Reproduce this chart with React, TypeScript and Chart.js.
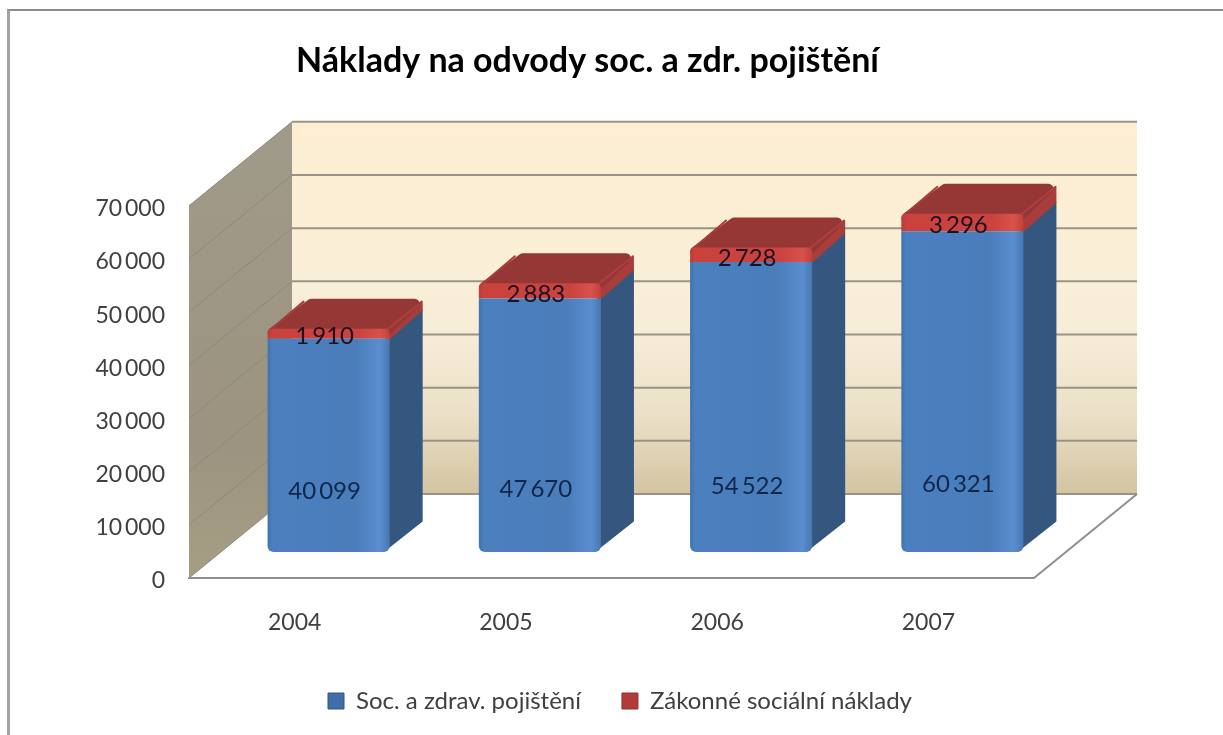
import React, { useEffect, useRef } from "react";
import { Chart, registerables } from "chart.js";

Chart.register(...registerables);

const years = ["2004", "2005", "2006", "2007"];
const socialInsurance = [40099, 47670, 54522, 60321];
const statutoryCosts = [1910, 2883, 2728, 3296];
const seriesNames = ["Soc. a zdrav. pojištění", "Zákonné sociální náklady"];
const chartTitle = "Náklady na odvody soc. a zdr. pojištění";

const FONT = "Lato";
const WALL = { dx: 103, dy: -84 };
const BAR_SHIFT = { dx: 34, dy: -26 };
const BAR_DEPTH = { dx: 33, dy: -31 };

const fmt = (v: number) => {
  const s = String(Math.round(v));
  return s.length > 3 ? s.slice(0, -3) + "\u2009" + s.slice(-3) : s;
};

// Colour stops are resolved inside the translated dataset context, so the gradient uses untranslated x.
function frontGradient(ctx: any, stops: [number, string][]) {
  const c = ctx.chart;
  const x = c.scales.x;
  if (!x || ctx.dataIndex === undefined) return stops[1][1];
  const cx = x.getPixelForValue(ctx.dataIndex);
  const g = c.ctx.createLinearGradient(cx - 61, 0, cx + 61, 0);
  stops.forEach(([p, col]) => g.addColorStop(p, col));
  return g;
}

const blueStops: [number, string][] = [
  [0, "#3f74ae"], [0.04, "#4b7fbe"], [0.72, "#4a7dba"], [0.92, "#5a8ecf"], [1, "#4877b2"],
];
const redStops: [number, string][] = [
  [0, "#bb3d39"], [0.04, "#c9423e"], [0.75, "#cb433f"], [0.92, "#d9514b"], [1, "#c1403c"],
];

const scenePlugin = {
  id: "scene3d",
  afterLayout(chart: any) {
    if (chart.titleBlock) { chart.titleBlock.left = 0; chart.titleBlock.right = 1175; }
    if (chart.legend) { chart.legend.left = 0; chart.legend.right = 1240; chart.legend.top -= 12; chart.legend.bottom -= 12; }
  },
  beforeDatasetsDraw(chart: any) {
    const { ctx, chartArea: a, scales } = chart;
    const y = scales.y;
    const { left, right } = a;
    const y0 = y.getPixelForValue(0);
    const yT = y.getPixelForValue(70000);
    const bl = left + WALL.dx, br = right + WALL.dx;
    ctx.save();
    // back wall
    const back = ctx.createLinearGradient(0, yT + WALL.dy, 0, y0 + WALL.dy);
    back.addColorStop(0, "#feefd3");
    back.addColorStop(0.55, "#f8eed8");
    back.addColorStop(0.8, "#eadfc6");
    back.addColorStop(1, "#d3c4a1");
    ctx.fillStyle = back;
    ctx.fillRect(bl, yT + WALL.dy, br - bl, y0 - yT);
    // left wall
    const side = ctx.createLinearGradient(0, yT + WALL.dy, 0, y0);
    side.addColorStop(0, "#a09a8a");
    side.addColorStop(0.7, "#9c9480");
    side.addColorStop(1, "#a69d84");
    ctx.fillStyle = side;
    ctx.beginPath();
    ctx.moveTo(left, yT); ctx.lineTo(bl, yT + WALL.dy); ctx.lineTo(bl, y0 + WALL.dy); ctx.lineTo(left, y0);
    ctx.closePath(); ctx.fill();
    // grid
    y.ticks.forEach((t: any) => {
      const py = y.getPixelForValue(t.value);
      ctx.lineWidth = 2;
      ctx.strokeStyle = "#9b9485";
      ctx.beginPath(); ctx.moveTo(bl, py + WALL.dy); ctx.lineTo(br, py + WALL.dy); ctx.stroke();
      ctx.lineWidth = 1;
      ctx.strokeStyle = "#8f8979";
      ctx.beginPath(); ctx.moveTo(left, py); ctx.lineTo(bl, py + WALL.dy); ctx.stroke();
    });
    // floor outline
    ctx.lineWidth = 2;
    ctx.strokeStyle = "#8f8f8f";
    ctx.beginPath(); ctx.moveTo(left - 1, y0); ctx.lineTo(right, y0); ctx.lineTo(br, y0 + WALL.dy); ctx.stroke();
    // bar sides and tops
    const blue = chart.getDatasetMeta(0).data;
    const red = chart.getDatasetMeta(1).data;
    blue.forEach((bar: any, i: number) => {
      const rb = red[i];
      const x1 = bar.x + bar.width / 2 + BAR_SHIFT.dx;
      const x0 = bar.x - bar.width / 2 + BAR_SHIFT.dx;
      const yBase = bar.base + BAR_SHIFT.dy;
      const yMid = bar.y + BAR_SHIFT.dy;
      const yTop = rb.y + BAR_SHIFT.dy;
      const d = BAR_DEPTH;
      ctx.lineJoin = "round";
      const poly = (pts: number[][], col: string, lw: number) => {
        ctx.fillStyle = col; ctx.strokeStyle = col; ctx.lineWidth = lw;
        ctx.beginPath();
        pts.forEach((p, k) => (k ? ctx.lineTo(p[0], p[1]) : ctx.moveTo(p[0], p[1])));
        ctx.closePath(); ctx.fill();
        if (lw) ctx.stroke();
      };
      poly([[x1 - 3, yMid + 2], [x1 + d.dx - 1, yMid + d.dy + 2], [x1 + d.dx - 1, yBase + d.dy], [x1 - 6, yBase - 1]], "#34567f", 2);
      poly([[x1 - 3, yTop + 3], [x1 + d.dx - 1, yTop + d.dy + 4], [x1 + d.dx - 1, yMid + d.dy + 2], [x1 - 3, yMid + 2]], "#a83e3b", 2);
      poly([[x0 + 5, yTop + 4], [x1 - 5, yTop + 4], [x1 + d.dx - 8, yTop + d.dy + 6], [x0 + d.dx + 11, yTop + d.dy + 6]], "#953735", 10);
      // lighter rim along the front edges of the top
      ctx.strokeStyle = "#ad3f3c";
      ctx.lineWidth = 2;
      ctx.lineCap = "round";
      ctx.beginPath(); ctx.moveTo(x1 - 4, yTop + 2); ctx.lineTo(x1 + d.dx - 3, yTop + d.dy + 6); ctx.stroke();
      ctx.beginPath(); ctx.moveTo(x0 + 2, yTop + 2); ctx.lineTo(x0 + d.dx + 3, yTop + d.dy + 4); ctx.strokeStyle = "#a63d3a"; ctx.stroke();
    });
    ctx.restore();
  },
  beforeDatasetDraw(chart: any) {
    chart.ctx.save();
    chart.ctx.translate(BAR_SHIFT.dx, BAR_SHIFT.dy);
  },
  afterDatasetDraw(chart: any) {
    chart.ctx.restore();
  },
  afterDatasetsDraw(chart: any) {
    const { ctx } = chart;
    ctx.save();
    ctx.font = `24px ${FONT}`;
    ctx.textAlign = "center";
    ctx.textBaseline = "middle";
    const blue = chart.getDatasetMeta(0).data;
    const red = chart.getDatasetMeta(1).data;
    blue.forEach((bar: any, i: number) => {
      const h = bar.base - bar.y;
      ctx.fillStyle = "#10264a";
      ctx.fillText(fmt(socialInsurance[i]), bar.x + BAR_SHIFT.dx - 4, bar.base + BAR_SHIFT.dy - 46 - 0.067 * h);
      ctx.fillStyle = "#1d1022";
      ctx.fillText(fmt(statutoryCosts[i]), bar.x + BAR_SHIFT.dx - 4, (bar.y + red[i].y) / 2 + BAR_SHIFT.dy + 3);
    });
    ctx.restore();
  },
};

export default function App() {
  const ref = useRef<HTMLCanvasElement>(null);
  useEffect(() => {
    const chart = new Chart(ref.current as HTMLCanvasElement, {
      type: "bar",
      data: {
        labels: years,
        datasets: [
          {
            label: seriesNames[0],
            data: socialInsurance,
            backgroundColor: (c: any) => frontGradient(c, blueStops),
            borderRadius: { bottomLeft: 6, bottomRight: 6, topLeft: 0, topRight: 0 },
            borderSkipped: false,
            clip: false,
          },
          {
            label: seriesNames[1],
            data: statutoryCosts,
            backgroundColor: (c: any) => frontGradient(c, redStops),
            borderRadius: { topLeft: 5, topRight: 5, bottomLeft: 0, bottomRight: 0 },
            borderSkipped: false,
            clip: false,
          },
        ] as any,
      },
      options: {
        animation: false,
        responsive: false,
        layout: { padding: { left: 0, right: 189, top: 0, bottom: 0 } },
        datasets: { bar: { categoryPercentage: 1, barPercentage: 0.578 } },
        scales: {
          x: {
            stacked: true,
            grid: { display: false, drawTicks: false },
            border: { display: false },
            ticks: { color: "#404040", font: { family: FONT, size: 23 }, padding: 31, maxRotation: 0 },
            afterFit: (s: any) => { s.height = 82; },
          },
          y: {
            stacked: true,
            min: 0,
            max: 70000,
            grid: { display: false, drawTicks: false },
            border: { display: false },
            ticks: {
              stepSize: 10000,
              color: "#404040",
              font: { family: FONT, size: 23 },
              padding: 24,
              labelOffset: 3,
              callback: (v: any) => fmt(Number(v)),
            },
            afterFit: (s: any) => { s.width = 189; },
          },
        },
        plugins: {
          tooltip: { enabled: false },
          title: {
            display: true,
            text: chartTitle,
            color: "#000000",
            font: { family: FONT, size: 34, weight: "bold", lineHeight: 1.2 },
            padding: { top: 41, bottom: 124 },
          },
          legend: {
            display: true,
            position: "bottom",
            labels: {
              color: "#404040",
              font: { family: FONT, size: 24 },
              boxWidth: 16,
              boxHeight: 16,
              padding: 41,
              generateLabels: (chart: any) =>
                chart.data.datasets.map((d: any, i: number) => ({
                  text: d.label,
                  fillStyle: i === 0 ? "#3f6fa8" : "#b23a38",
                  strokeStyle: i === 0 ? "#2f5480" : "#8f3330",
                  lineWidth: 1,
                  datasetIndex: i,
                  fontColor: "#404040",
                })),
            },
          },
        },
      } as any,
      plugins: [scenePlugin as any],
    });
    return () => chart.destroy();
  }, []);

  return (
    <div style={{ position: "fixed", left: 0, top: 0, width: 1223, height: 735, background: "#fff", overflow: "hidden" }}>
      <div style={{ position: "absolute", left: 7, top: 9, right: -5, bottom: -5, borderTop: "2px solid #8c8c8c", borderLeft: "3px solid #a3a3a3" }} />
      <canvas ref={ref} width={1223} height={735} style={{ position: "absolute", left: 0, top: 0, display: "block" }} />
    </div>
  );
}
